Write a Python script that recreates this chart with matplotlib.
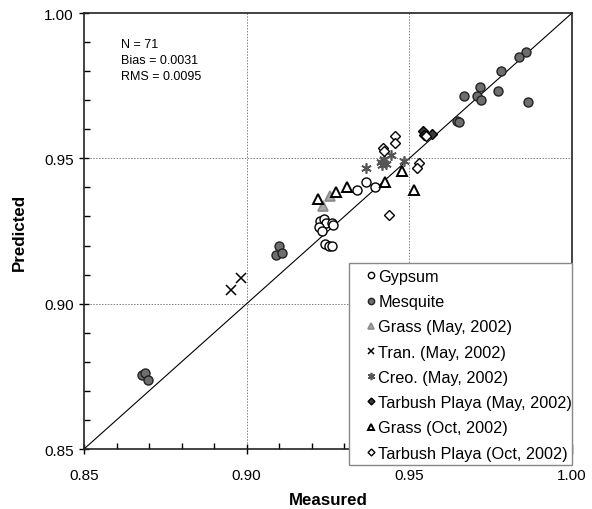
import matplotlib
matplotlib.use("Agg")
import matplotlib.pyplot as plt
from matplotlib.ticker import MultipleLocator, FormatStrFormatter
from matplotlib.patches import Rectangle

plt.rcParams['font.family'] = ['Liberation Sans', 'DejaVu Sans']

gypsum_x = [0.9225, 0.9238, 0.9244, 0.9222, 0.9231, 0.9261, 0.9266, 0.9241, 0.9254, 0.9262, 0.9339, 0.9367, 0.9393]
gypsum_y = [0.9285, 0.9293, 0.9277, 0.9265, 0.9250, 0.9277, 0.9272, 0.9205, 0.9199, 0.9198, 0.9392, 0.9419, 0.9401]

mesq_x = [0.9860, 0.9837, 0.9781, 0.9717, 0.9707, 0.9719, 0.9668, 0.9772, 0.9864, 0.9648, 0.9652,
          0.8677, 0.8688, 0.8696, 0.9099, 0.9090, 0.9108]
mesq_y = [0.9867, 0.9850, 0.9799, 0.9744, 0.9714, 0.9702, 0.9713, 0.9732, 0.9693, 0.9628, 0.9626,
          0.8754, 0.8761, 0.8737, 0.9199, 0.9168, 0.9175]

grass_may_x = [0.9256, 0.9234]
grass_may_y = [0.9371, 0.9335]

tran_x = [0.8952, 0.8982]
tran_y = [0.9047, 0.9087]

creo_x = [0.9367, 0.9413, 0.9422, 0.9428, 0.9443, 0.9483, 0.9416]
creo_y = [0.9466, 0.9487, 0.9498, 0.9480, 0.9511, 0.9492, 0.9477]

tarb_may_x = [0.9541, 0.9570, 0.9546]
tarb_may_y = [0.9593, 0.9585, 0.9582]

grass_oct_x = [0.9220, 0.9276, 0.9307, 0.9425, 0.9478, 0.9514]
grass_oct_y = [0.9360, 0.9383, 0.9400, 0.9419, 0.9457, 0.9391]

tarb_oct_x = [0.9455, 0.9455, 0.9420, 0.9422, 0.9529, 0.9525, 0.9438, 0.9551]
tarb_oct_y = [0.9578, 0.9553, 0.9534, 0.9525, 0.9484, 0.9467, 0.9306, 0.9578]

stats_lines = ["N = 71", "Bias = 0.0031", "RMS = 0.0095"]

fig = plt.figure(figsize=(5.92, 5.10), dpi=100)
ax = fig.add_axes([0.1419, 0.1176, 0.8243, 0.8549])

ax.set_xlim(0.85, 1.0)
ax.set_ylim(0.85, 1.0)

for t in [0.90, 0.95]:
    ax.axvline(t, color='#808080', lw=0.7, ls=(0, (1.5, 1.5)), zorder=0)
    ax.axhline(t, color='#808080', lw=0.7, ls=(0, (1.5, 1.5)), zorder=0)

ax.plot([0.85, 1.0], [0.85, 1.0], color='black', lw=0.8, zorder=1)

ms = 6.5
ax.plot(gypsum_x, gypsum_y, 'o', ms=ms, mfc='white', mec='black', mew=1.0, ls='none', label='Gypsum', zorder=3)
ax.plot(mesq_x, mesq_y, 'o', ms=ms, mfc='#6e6e6e', mec='#222222', mew=1.0, ls='none', label='Mesquite', zorder=3)
ax.plot(grass_may_x, grass_may_y, '^', ms=ms, mfc='#a8a8a8', mec='#8a8a8a', mew=1.2, ls='none', label='Grass (May, 2002)', zorder=3)
ax.plot(tran_x, tran_y, 'x', ms=ms, mec='black', mew=1.1, ls='none', label='Tran. (May, 2002)', zorder=3)
ax.plot(creo_x, creo_y, marker=(6, 2, 0), ms=ms + 1, mec='#555555', mew=1.2, ls='none', label='Creo. (May, 2002)', zorder=3)
ax.plot(tarb_may_x, tarb_may_y, 'D', ms=5, mfc='#3a3a3a', mec='black', mew=1.0, ls='none', label='Tarbush Playa (May, 2002)', zorder=3)
ax.plot(grass_oct_x, grass_oct_y, '^', ms=ms, mfc='white', mec='black', mew=1.4, ls='none', label='Grass (Oct, 2002)', zorder=3)
ax.plot(tarb_oct_x, tarb_oct_y, 'D', ms=5, mfc='white', mec='black', mew=1.0, ls='none', label='Tarbush Playa (Oct, 2002)', zorder=3)

ax.xaxis.set_major_locator(MultipleLocator(0.05))
ax.yaxis.set_major_locator(MultipleLocator(0.05))
ax.xaxis.set_minor_locator(MultipleLocator(0.01))
ax.yaxis.set_minor_locator(MultipleLocator(0.01))
ax.xaxis.set_major_formatter(FormatStrFormatter('%.2f'))
ax.yaxis.set_major_formatter(FormatStrFormatter('%.2f'))
ax.tick_params(which='major', direction='inout', length=7, width=1.0, labelsize=11, pad=4)
ax.tick_params(axis='x', which='major', pad=10.5)
ax.tick_params(which='minor', direction='in', length=4, width=1.0)
ax.tick_params(top=False, right=False, which='both')

for s in ax.spines.values():
    s.set_linewidth(1.2)
    s.set_color('#222222')

ax.set_xlabel('Measured', fontsize=12.2, fontweight='bold', labelpad=7)
ax.set_ylabel('Predicted', fontsize=12.2, fontweight='bold', labelpad=12)

ax.text(0.076, 0.942, "\n".join(stats_lines), transform=ax.transAxes, fontsize=9,
        va='top', ha='left', linespacing=1.4)

# legend frame drawn as a rectangle in axes coordinates
frame = Rectangle((0.543, -0.0367), 0.457, 0.4633, transform=ax.transAxes,
                  facecolor='white', edgecolor='#888888', lw=1.0, clip_on=False, zorder=5)
ax.add_patch(frame)

leg = ax.legend(loc='upper left', bbox_to_anchor=(0.578, 0.413), fontsize=11.7,
                frameon=False, markerscale=0.7, handlelength=0.6, handletextpad=0.15,
                labelspacing=0.63, borderpad=0, borderaxespad=0)
leg.set_zorder(6)

fig.savefig('out.png', dpi=100)
